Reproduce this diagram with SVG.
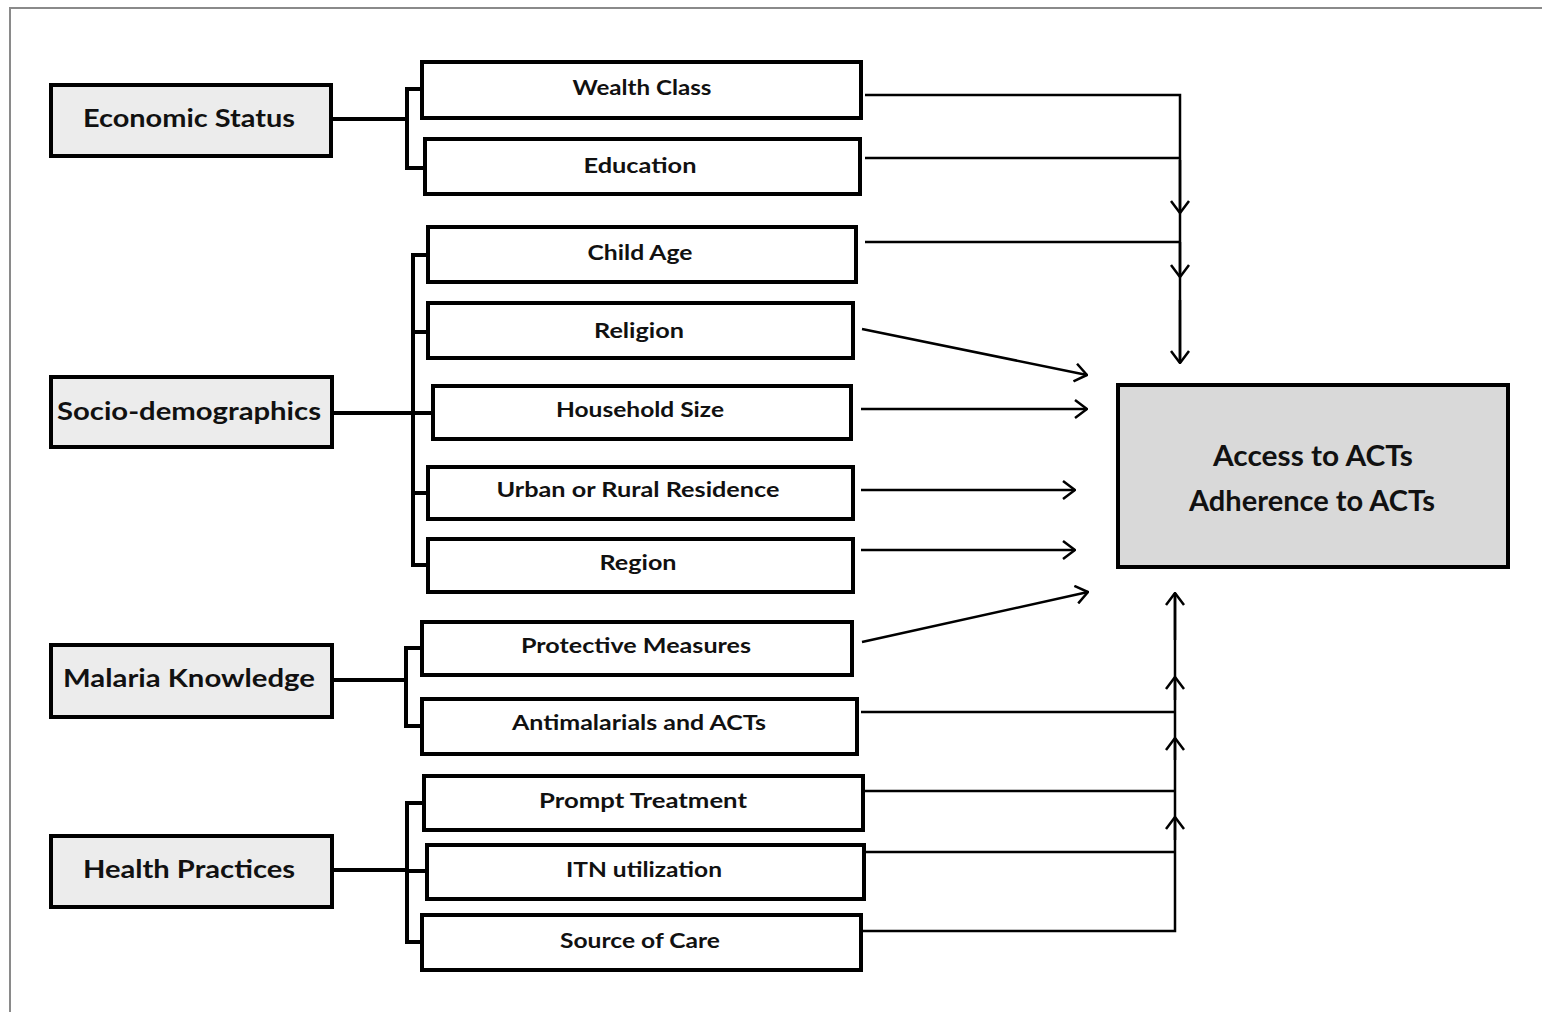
<svg xmlns="http://www.w3.org/2000/svg" width="1542" height="1012" viewBox="0 0 1542 1012">
  <style>
    .frame { fill: none; stroke: #8a8a8a; stroke-width: 2; }
    .cat rect { fill: #ececec; stroke: #000; stroke-width: 4; }
    .item rect { fill: #fff; stroke: #000; stroke-width: 4; }
    .target rect { fill: #d9d9d9; stroke: #000; stroke-width: 4; }
    text { font-family: Lato, "Open Sans", "Liberation Sans", sans-serif; font-weight: bold; fill: #111; text-anchor: middle; }
    .cat text { font-size: 25px; }
    .item text { font-size: 20px; }
    .target text { font-size: 29px; }
    .bracket { fill: none; stroke: #000; stroke-width: 4; }
    .link { fill: none; stroke: #000; stroke-width: 2.5; }
  </style>
  <defs>
    <marker id="chev" viewBox="0 0 14 20" refX="13" refY="10" markerWidth="14" markerHeight="20" markerUnits="userSpaceOnUse" orient="auto">
      <path d="M1,1 L13,10 L1,19" fill="none" stroke="#000" stroke-width="2.5"/>
    </marker>
  </defs>

  <rect width="1542" height="1012" fill="#fff"/>
  <path class="frame" d="M10,1012 V8 H1542"/>

  <!-- category boxes -->
  <g id="economic-status" class="cat">
    <rect x="51" y="85" width="280" height="71"/>
    <text x="189" y="127" textLength="212" lengthAdjust="spacingAndGlyphs">Economic Status</text>
  </g>
  <g id="socio-demographics" class="cat">
    <rect x="51" y="377" width="281" height="70"/>
    <text x="189" y="420" textLength="264" lengthAdjust="spacingAndGlyphs">Socio-demographics</text>
  </g>
  <g id="malaria-knowledge" class="cat">
    <rect x="51" y="645" width="281" height="72"/>
    <text x="189" y="687" textLength="252" lengthAdjust="spacingAndGlyphs">Malaria Knowledge</text>
  </g>
  <g id="health-practices" class="cat">
    <rect x="51" y="836" width="281" height="71"/>
    <text x="189" y="878" textLength="212" lengthAdjust="spacingAndGlyphs">Health Practices</text>
  </g>

  <!-- factor boxes -->
  <g id="wealth-class" class="item">
    <rect x="422" y="62" width="439" height="56"/>
    <text x="642" y="95" textLength="139" lengthAdjust="spacingAndGlyphs">Wealth Class</text>
  </g>
  <g id="education" class="item">
    <rect x="425" y="139" width="435" height="55"/>
    <text x="640" y="173" textLength="113" lengthAdjust="spacingAndGlyphs">Education</text>
  </g>
  <g id="child-age" class="item">
    <rect x="428" y="227" width="428" height="55"/>
    <text x="640" y="260" textLength="105" lengthAdjust="spacingAndGlyphs">Child Age</text>
  </g>
  <g id="religion" class="item">
    <rect x="428" y="303" width="425" height="55"/>
    <text x="639" y="338" textLength="90" lengthAdjust="spacingAndGlyphs">Religion</text>
  </g>
  <g id="household-size" class="item">
    <rect x="433" y="386" width="418" height="53"/>
    <text x="640" y="417" textLength="168" lengthAdjust="spacingAndGlyphs">Household Size</text>
  </g>
  <g id="urban-rural-residence" class="item">
    <rect x="428" y="467" width="425" height="52"/>
    <text x="638" y="497" textLength="283" lengthAdjust="spacingAndGlyphs">Urban or Rural Residence</text>
  </g>
  <g id="region" class="item">
    <rect x="428" y="539" width="425" height="53"/>
    <text x="638" y="570" textLength="77" lengthAdjust="spacingAndGlyphs">Region</text>
  </g>
  <g id="protective-measures" class="item">
    <rect x="422" y="622" width="430" height="53"/>
    <text x="636" y="653" textLength="230" lengthAdjust="spacingAndGlyphs">Protective Measures</text>
  </g>
  <g id="antimalarials-acts" class="item">
    <rect x="422" y="699" width="435" height="55"/>
    <text x="639" y="730" textLength="254" lengthAdjust="spacingAndGlyphs">Antimalarials and ACTs</text>
  </g>
  <g id="prompt-treatment" class="item">
    <rect x="424" y="776" width="439" height="54"/>
    <text x="643" y="808" textLength="208" lengthAdjust="spacingAndGlyphs">Prompt Treatment</text>
  </g>
  <g id="itn-utilization" class="item">
    <rect x="427" y="845" width="437" height="54"/>
    <text x="644" y="877" textLength="156" lengthAdjust="spacingAndGlyphs">ITN utilization</text>
  </g>
  <g id="source-of-care" class="item">
    <rect x="422" y="915" width="439" height="55"/>
    <text x="640" y="948" textLength="160" lengthAdjust="spacingAndGlyphs">Source of Care</text>
  </g>

  <!-- outcome -->
  <g id="outcome" class="target">
    <rect x="1118" y="385" width="390" height="182"/>
    <text x="1313" y="466" textLength="200" lengthAdjust="spacingAndGlyphs">Access to ACTs</text>
    <text x="1312" y="511" textLength="246" lengthAdjust="spacingAndGlyphs">Adherence to ACTs</text>
  </g>

  <g id="connectors">
    <!-- brackets from each category to its factors -->
    <path class="bracket" d="M332,119 H407 M422,89 H407 V168 H425"/>
    <path class="bracket" d="M332,413 H413 M428,255 H413 V565 H428 M413,332 H428 M413,413 H433 M413,493 H428"/>
    <path class="bracket" d="M332,680 H406 M422,648 H406 V726 H422"/>
    <path class="bracket" d="M332,870 H407 M424,803 H407 V942 H422 M407,871 H427"/>

    <!-- factors feeding down into the outcome -->
    <path class="link" d="M865,95 H1180 V363"/>
    <path class="link" d="M865,158 H1180"/>
    <path class="link" d="M865,242 H1180"/>
    <path class="link" d="M1180,160 V213" marker-end="url(#chev)"/>
    <path class="link" d="M1180,242 V277" marker-end="url(#chev)"/>
    <path class="link" d="M1180,300 V363" marker-end="url(#chev)"/>

    <!-- direct arrows -->
    <path class="link" d="M862,329 L1087,375" marker-end="url(#chev)"/>
    <path class="link" d="M861,409 L1087,409" marker-end="url(#chev)"/>
    <path class="link" d="M861,490 L1075,490" marker-end="url(#chev)"/>
    <path class="link" d="M861,550 L1075,550" marker-end="url(#chev)"/>
    <path class="link" d="M862,642 L1088,592" marker-end="url(#chev)"/>

    <!-- factors feeding up into the outcome -->
    <path class="link" d="M861,712 H1175"/>
    <path class="link" d="M864,791 H1175"/>
    <path class="link" d="M865,852 H1175"/>
    <path class="link" d="M862,931 H1175 V593"/>
    <path class="link" d="M1175,700 V677" marker-end="url(#chev)"/>
    <path class="link" d="M1175,760 V738" marker-end="url(#chev)"/>
    <path class="link" d="M1175,840 V817" marker-end="url(#chev)"/>
    <path class="link" d="M1175,640 V593" marker-end="url(#chev)"/>
  </g>
</svg>
